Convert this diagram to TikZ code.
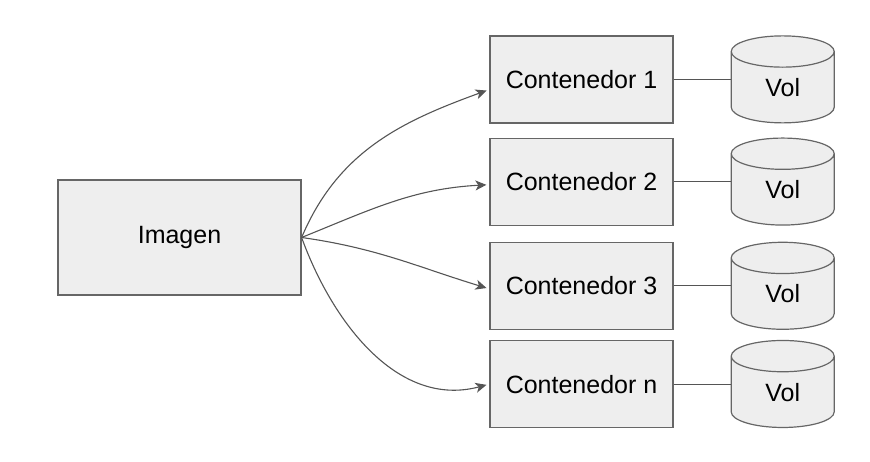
\documentclass[tikz,border=0pt]{standalone}
\usepackage{fontspec}
\setmainfont{Liberation Sans}
\usepackage{xcolor}
\usepackage{tikz}
\usetikzlibrary{positioning,arrows.meta,shapes.geometric}

\definecolor{boxfill}{HTML}{EEEEEE}
\definecolor{boxline}{HTML}{666666}
\definecolor{arrline}{HTML}{555555}

\begin{document}
\begin{tikzpicture}[
  x=1pt, y=1pt,
  font=\fontsize{25}{30}\selectfont,
  box/.style={draw=boxline, fill=boxfill, line width=1.2pt,
    minimum width=183pt, minimum height=87pt, inner sep=0pt},
  vol/.style={cylinder, shape border rotate=90, draw=boxline, fill=boxfill,
    line width=1.2pt, minimum width=103pt, minimum height=87pt,
    shape aspect=0.9, inner sep=0pt, yshift=-8pt},
  arr/.style={-{Stealth[length=11pt,width=10pt,inset=3pt]}, line width=1.1pt,
    arrline, shorten >=3pt},
  link/.style={line width=1.1pt, arrline}
]
\useasboundingbox (0,0) rectangle (870,462);
\node[box, minimum width=243pt, minimum height=115pt] (img) at (179.5,224.5) {Imagen};
\node[box] (c1) at (581.5,382.5) {Contenedor 1};
\node[box, below=14pt of c1] (c2) {Contenedor 2};
\node[box, below=16pt of c2] (c3) {Contenedor 3};
\node[box, below=10pt of c3] (cn) {Contenedor n};
\node[vol, right=57pt of c1] (v1) {Vol};
\node[vol, right=57pt of c2] (v2) {Vol};
\node[vol, right=57pt of c3] (v3) {Vol};
\node[vol, right=57pt of cn] (vn) {Vol};
% Imagen -> contenedores
\draw[arr] (img.east) to[out=67, in=200] ([yshift=-10pt]c1.west);
\draw[arr] (img.east) to[out=22, in=183] ([yshift=-3pt]c2.west);
\draw[arr] (img.east) to[out=-8, in=163] ([yshift=-3pt]c3.west);
\draw[arr] (img.east) to[out=-70, in=195] (cn.west);
% contenedores -- volumenes
\draw[link] (c1.east) -- (v1.west |- c1.east);
\draw[link] (c2.east) -- (v2.west |- c2.east);
\draw[link] (c3.east) -- (v3.west |- c3.east);
\draw[link] (cn.east) -- (vn.west |- cn.east);
\end{tikzpicture}
\end{document}
